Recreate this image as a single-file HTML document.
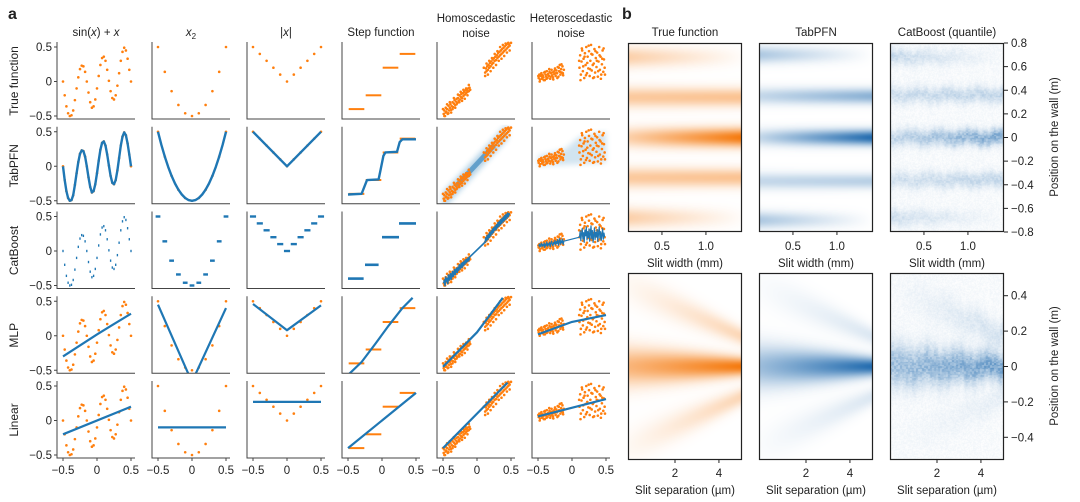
<!DOCTYPE html>
<html><head><meta charset="utf-8">
<style>
html,body{margin:0;padding:0;background:#fff;}
#wrap{position:relative;width:1080px;height:502px;overflow:hidden;font-family:"Liberation Sans",Arial,sans-serif;}
canvas{position:absolute;}
svg{position:absolute;left:0;top:0;}
svg text{font-family:"Liberation Sans",Arial,sans-serif;fill:#222;}
</style></head>
<body>
<div id="wrap">
<canvas id="h0" width="114" height="189" style="left:628px;top:43px"></canvas>
<canvas id="h1" width="114" height="189" style="left:759px;top:43px"></canvas>
<canvas id="h2" width="114" height="189" style="left:890px;top:43px"></canvas>
<canvas id="h3" width="114" height="187" style="left:628px;top:273px"></canvas>
<canvas id="h4" width="114" height="187" style="left:759px;top:273px"></canvas>
<canvas id="h5" width="114" height="187" style="left:890px;top:273px"></canvas>
<svg id="svg" width="1080" height="502" xmlns="http://www.w3.org/2000/svg">
<defs><filter id="blur"><feGaussianBlur stdDeviation="3"/></filter></defs>
</svg>
</div>
<script>
// ---------- panel a data ----------
const gridX = [-0.5,-0.475,-0.45,-0.425,-0.4,-0.375,-0.35,-0.325,-0.3,-0.275,-0.25,-0.225,-0.2,-0.175,-0.15,-0.125,-0.1,-0.075,-0.05,-0.025,0,0.025,0.05,0.075,0.1,0.125,0.15,0.175,0.2,0.225,0.25,0.275,0.3,0.325,0.35,0.375,0.4,0.425,0.45,0.475,0.5];
const sinY = [0,-0.2,-0.36,-0.46,-0.5,-0.49,-0.42,-0.27,-0.1,0.06,0.18,0.23,0.22,0.14,0,-0.16,-0.3,-0.38,-0.36,-0.26,-0.1,0.08,0.24,0.34,0.36,0.3,0.17,0.01,-0.14,-0.24,-0.26,-0.2,-0.06,0.12,0.3,0.43,0.49,0.45,0.33,0.17,0];
const mlpSinX = [-0.5,0,0.2,0.5];
const mlpSinY = [-0.3,0.02,0.14,0.32];
const linSinX = [-0.5,0.5];
const linSinY = [-0.2,0.2];
const tenthX = [-0.5,-0.4,-0.3,-0.2,-0.1,0,0.1,0.2,0.3,0.4,0.5];
const x2Y = [0.5,0.14,-0.14,-0.34,-0.46,-0.5,-0.46,-0.34,-0.14,0.14,0.5];
const curveX = [-0.5,-0.45,-0.4,-0.35,-0.3,-0.25,-0.2,-0.15,-0.1,-0.05,0,0.05,0.1,0.15,0.2,0.25,0.3,0.35,0.4,0.45,0.5];
const tabX2Y = [0.5,0.31,0.14,-0.01,-0.14,-0.25,-0.34,-0.41,-0.46,-0.49,-0.5,-0.49,-0.46,-0.41,-0.34,-0.25,-0.14,-0.01,0.14,0.31,0.5];
const mlpX2X = [-0.5,-0.05,0.05,0.5];
const mlpX2Y = [0.45,-0.56,-0.56,0.4];
const linX2Y = [-0.1,-0.1];
const absY = [0.5,0.4,0.3,0.2,0.1,0,0.1,0.2,0.3,0.4,0.5];
const tabAbsX = [-0.5,0,0.5];
const tabAbsY = [0.5,0,0.5];
const mlpAbsY = [0.46,0.08,0.44];
const linAbsY = [0.27,0.27];
const stepX0 = [-0.5,-0.25,0,0.25];
const stepX1 = [-0.25,0,0.25,0.5];
const stepY = [-0.4,-0.2,0.2,0.4];
const tabStepX = [-0.5,-0.3,-0.26,-0.22,-0.05,-0.02,0.02,0.05,0.22,0.26,0.3,0.5];
const tabStepY = [-0.41,-0.4,-0.3,-0.2,-0.19,-0.05,0.15,0.2,0.21,0.35,0.39,0.39];
const catStepX0 = [-0.5,-0.25,0,0.25];
const catStepX1 = [-0.27,-0.05,0.25,0.5];
const mlpStepX = [-0.48,-0.3,-0.1,0.1,0.3,0.45];
const mlpStepY = [-0.55,-0.38,-0.12,0.15,0.4,0.55];
const linStepY = [-0.4,0.4];
const homoX = [-0.49,-0.48,-0.47,-0.46,-0.45,-0.44,-0.43,-0.42,-0.41,-0.4,-0.39,-0.38,-0.37,-0.36,-0.35,-0.34,-0.33,-0.32,-0.31,-0.3,-0.29,-0.28,-0.27,-0.26,-0.25,-0.24,-0.23,-0.22,-0.21,-0.2,-0.19,-0.18,-0.17,-0.16,-0.15,-0.14,-0.13,-0.12,-0.11,
 0.12,0.13,0.14,0.15,0.16,0.17,0.18,0.19,0.2,0.21,0.22,0.23,0.24,0.25,0.26,0.27,0.28,0.29,0.3,0.31,0.32,0.33,0.34,0.35,0.36,0.37,0.38,0.39,0.4,0.41,0.42,0.43,0.44,0.45,0.46,0.47,0.48];
const homoY = [-0.47,-0.42,-0.5,-0.38,-0.44,-0.4,-0.47,-0.35,-0.42,-0.38,-0.33,-0.41,-0.36,-0.3,-0.37,-0.32,-0.27,-0.34,-0.29,-0.25,-0.31,-0.24,-0.28,-0.2,-0.26,-0.22,-0.18,-0.24,-0.17,-0.21,-0.15,-0.19,-0.13,-0.17,-0.12,-0.15,-0.1,-0.14,-0.09,
 0.13,0.19,0.15,0.22,0.17,0.24,0.2,0.27,0.22,0.29,0.25,0.32,0.27,0.34,0.3,0.36,0.31,0.38,0.34,0.41,0.36,0.43,0.38,0.45,0.4,0.47,0.42,0.49,0.44,0.51,0.46,0.53,0.48,0.55,0.5,0.54,0.52];
const homoXExtra = [-0.5,-0.48,-0.46,-0.44,-0.42,-0.4,-0.38,-0.36,-0.34,-0.32,-0.3,-0.28,-0.26,-0.24,-0.22,-0.2,-0.18,-0.16,-0.14,-0.12,-0.1,
 0.1,0.12,0.14,0.16,0.18,0.2,0.22,0.24,0.26,0.28,0.3,0.32,0.34,0.36,0.38,0.4,0.42,0.44,0.46,0.48,0.5];
const homoYExtra = [-0.4,-0.5,-0.45,-0.33,-0.46,-0.3,-0.45,-0.4,-0.24,-0.38,-0.33,-0.19,-0.3,-0.15,-0.28,-0.12,-0.25,-0.1,-0.2,-0.05,-0.12,
 0.2,0.08,0.26,0.1,0.3,0.15,0.34,0.2,0.4,0.24,0.44,0.3,0.5,0.33,0.53,0.37,0.55,0.42,0.56,0.45,0.56];
const heteroX = [-0.49,-0.48,-0.47,-0.46,-0.45,-0.44,-0.43,-0.42,-0.41,-0.4,-0.39,-0.38,-0.37,-0.36,-0.35,-0.34,-0.33,-0.32,-0.31,-0.3,-0.29,-0.28,-0.27,-0.26,-0.25,-0.24,-0.23,-0.22,-0.21,-0.2,-0.19,-0.18,-0.17,-0.16,-0.15,-0.14,-0.13,-0.12,
 0.11,0.12,0.13,0.14,0.15,0.16,0.17,0.18,0.19,0.2,0.21,0.22,0.23,0.24,0.25,0.26,0.27,0.28,0.29,0.3,0.31,0.32,0.33,0.34,0.35,0.36,0.37,0.38,0.39,0.4,0.41,0.42,0.43,0.44,0.45,0.46,0.47,0.48];
const heteroY = [0.05,0.1,0.03,0.08,0.12,0.04,0.09,0.06,0.13,0.02,0.1,0.07,0.15,0.05,0.11,0.08,0.14,0.04,0.12,0.17,0.09,0.06,0.14,0.11,0.19,0.08,0.16,0.12,0.21,0.07,0.15,0.24,0.1,0.18,0.13,0.22,0.09,0.17,
 0.2,0.38,0.1,0.29,0.45,0.15,0.33,0.05,0.41,0.24,0.5,0.12,0.36,0.19,0.44,0.08,0.3,0.53,0.16,0.39,0.05,0.26,0.47,0.13,0.34,0.21,0.42,0.07,0.29,0.5,0.17,0.36,0.1,0.25,0.45,0.14,0.32,0.2];
const heteroXExtra = [-0.495,-0.475,-0.455,-0.435,-0.415,-0.395,-0.375,-0.355,-0.335,-0.315,-0.295,-0.275,-0.255,-0.235,-0.215,-0.195,-0.175,-0.155,-0.135,
 0.105,0.125,0.145,0.165,0.185,0.205,0.225,0.245,0.265,0.285,0.305,0.325,0.345,0.365,0.385,0.405,0.425,0.445,0.465,0.485];
const heteroYExtra = [0.08,0.0,0.11,0.06,0.02,0.14,0.04,0.1,0.18,0.07,0.13,0.03,0.16,0.12,0.05,0.2,0.14,0.25,0.12,
 0.3,0.02,0.48,0.22,0.36,0.09,0.27,0.52,0.18,0.4,0.24,0.06,0.44,0.3,0.15,0.38,0.04,0.33,0.48,0.1];
const mlpHomoX = [-0.5,0,0.38];
const mlpHomoY = [-0.45,0.05,0.55];
const linHomoX = [-0.5,0.45];
const linHomoY = [-0.4,0.55];
const mlpHetX = [-0.5,0,0.5];
const mlpHetY = [0.02,0.2,0.3];
const linHetX = [-0.5,0.5];
const linHetY = [0.06,0.31];
const rowNames = ["True function","TabPFN","CatBoost","MLP","Linear"];
const yTicks = [0.5,0,-0.5];
const xTicks = [-0.5,0,0.5];

// ---------- panel b data ----------
const topBandC = [0.68,0.34,0,-0.34,-0.68];
const trueTopL = [0.35,0.4,0.35,0.4,0.35];
const trueTopR = [0.02,0.45,1.0,0.45,0.02];
const tabTopC = [0.7,0.35,0,-0.37,-0.7];
const tabTopL = [0.35,0.25,0.25,0.25,0.35];
const tabTopR = [0.0,0.5,0.95,0.3,0.0];
const catTopC = [0.68,0.36,0,-0.36,-0.68];
const catTopL = [0.2,0.17,0.2,0.15,0.17];
const catTopR = [0.0,0.22,0.5,0.22,0.0];
const botC0 = [0,0.45,-0.45];
const botC5 = [0,0.17,-0.17];
const trueBotL = [0.55,0.05,0.05];
const trueBotR = [1.0,0.3,0.3];
const tabBotL = [0.42,0.02,0.02];
const tabBotR = [0.95,0.15,0.15];
const catBotL = [0.35,0.0,0.0];
const catBotR = [0.55,0.15,0.07];
const topXTicks = [0.5,1.0];
const botXTicks = [2,4];
const topYTicks = [0.8,0.6,0.4,0.2,0,-0.2,-0.4,-0.6,-0.8];
const botYTicks = [0.4,0.2,0,-0.2,-0.4];

// ---------- helpers ----------
const NS = "http://www.w3.org/2000/svg";
const svg = document.getElementById("svg");
const OR = "#ff7f0e", BL = "#1f77b4";
function mk(tag, attrs, parent){const e=document.createElementNS(NS,tag);for(const k in attrs)e.setAttribute(k,attrs[k]);(parent||svg).appendChild(e);return e;}
function fmt(v){return v===0?"0":(v<0?"\u2212":"")+String(Math.abs(v)).replace(/^0\./,"0.");}
const colL = [57,152,247,342,437,532];
function rowT(r){return 42+r*84.75;}
function sx(c,x){return colL[c]+6+(x+0.5)*68;}
function sy(r,y){return rowT(r)+39.5-y*69;}

function line(g,c,r,xs,ys,w,col,name){
  const p=xs.map((x,i)=>sx(c,x).toFixed(1)+","+sy(r,ys[i]).toFixed(1)).join(" ");
  const e=mk("polyline",{points:p,fill:"none",stroke:col||BL,"stroke-width":w||2.2,"stroke-linejoin":"round"},g);
  
  
}
function dots(g,c,r,xs,ys,col,rad,name){
  xs.forEach((x,i)=>{const e=mk("circle",{cx:sx(c,x),cy:sy(r,ys[i]),r:rad||1.3,fill:col||OR},g);
    
    });
}
function segs(g,c,r,x0,x1,ys,col,w,name){
  ys.forEach((y,i)=>{const e=mk("line",{x1:sx(c,x0[i]),x2:sx(c,x1[i]),y1:sy(r,y),y2:sy(r,y),stroke:col,"stroke-width":w||2.2},g);
    
    });
}
function dashes(g,c,r,xs,ys,hw,name){
  segs(g,c,r,xs.map(x=>x-hw),xs.map(x=>x+hw),ys,BL,2.4,name||'catboost-dash');
}
function homoDots(g,c,r){dots(g,c,r,homoX,homoY);dots(g,c,r,homoXExtra,homoYExtra);}
function heteroDots(g,c,r){dots(g,c,r,heteroX,heteroY);dots(g,c,r,heteroXExtra,heteroYExtra);}

// ---------- panel a ----------
let t=mk("text",{x:8,y:19,"font-size":16,"font-weight":"bold"});t.textContent="a";

const titles=[["sin(x) + x"],["x2"],["|x|"],["Step function"],["Homoscedastic","noise"],["Heteroscedastic","noise"]];
titles.forEach((tt,c)=>{
  const cx=colL[c]+39;
  const e=mk("text",{x:cx,y:tt.length>1?22:36,"text-anchor":"middle","font-size":11.5});
  
  if(c===0){e.innerHTML='sin(<tspan font-style="italic">x</tspan>) + <tspan font-style="italic">x</tspan>';}
  else if(c===1){e.innerHTML='<tspan font-style="italic">x</tspan><tspan font-size="8" dy="3">2</tspan>';}
  else if(c===2){e.innerHTML='|<tspan font-style="italic">x</tspan>|';}
  else{e.textContent=tt[0];}
  if(tt.length>1){const e2=mk("text",{x:cx,y:37,"text-anchor":"middle","font-size":11.5});e2.textContent=tt[1];
    }
});
for(let r=0;r<5;r++){
  const rl=mk("text",{x:0,y:0,"text-anchor":"middle","font-size":12,transform:`translate(18,${rowT(r)+39}) rotate(-90)`});
  rl.textContent=rowNames[r];
  yTicks.forEach(v=>{
    const y=sy(r,v);
    const tk=mk("line",{x1:colL[0]-3,x2:colL[0],y1:y,y2:y,stroke:"#444","stroke-width":1});
    
    const tl=mk("text",{x:colL[0]-5,y:y+4,"text-anchor":"end","font-size":11.5});tl.textContent=fmt(v);
    
  });
  for(let c=0;c<6;c++){
    const g=mk("g",{});
    
    const cid="cl"+r+"_"+c;
    const cp=mk("clipPath",{id:cid},g);mk("rect",{x:colL[c]+1,y:rowT(r)-2,width:79,height:79},cp);
    const pg=mk("g",{"clip-path":`url(#${cid})`},g);
    drawPlot(pg,r,c);
    const sp=mk("path",{d:`M${colL[c]},${rowT(r)} V${rowT(r)+77} H${colL[c]+78}`,fill:"none",stroke:"#444","stroke-width":1},g);
    
    if(r===4){xTicks.forEach(v=>{
      const x=sx(c,v);
      const tk=mk("line",{x1:x,x2:x,y1:rowT(r)+77,y2:rowT(r)+80,stroke:"#444","stroke-width":1});
      
      const tl=mk("text",{x:x,y:474,"text-anchor":"middle","font-size":11.5});tl.textContent=fmt(v);
      
    });}
  }
}
function drawPlot(g,r,c){
  if(c===0){
    if(r===1){dots(g,c,r,gridX,sinY);line(g,c,r,gridX,sinY,2.4);}
    else if(r===2){dashes(g,c,r,gridX,sinY,0.01);}
    else{dots(g,c,r,gridX,sinY);
      if(r===3)line(g,c,r,mlpSinX,mlpSinY);
      if(r===4)line(g,c,r,linSinX,linSinY);}
  } else if(c===1){
    if(r===1){dots(g,c,r,tenthX,x2Y);line(g,c,r,curveX,tabX2Y,2.4);}
    else if(r===2){dashes(g,c,r,tenthX,x2Y,0.035);}
    else{dots(g,c,r,tenthX,x2Y);
      if(r===3)line(g,c,r,mlpX2X,mlpX2Y);
      if(r===4)line(g,c,r,[-0.5,0.5],linX2Y);}
  } else if(c===2){
    if(r===1){dots(g,c,r,tenthX,absY);line(g,c,r,tabAbsX,tabAbsY,2.4);}
    else if(r===2){dashes(g,c,r,tenthX,absY,0.045);}
    else{dots(g,c,r,tenthX,absY);
      if(r===3)line(g,c,r,tabAbsX,mlpAbsY);
      if(r===4)line(g,c,r,[-0.5,0.5],linAbsY);}
  } else if(c===3){
    if(r===2){segs(g,c,r,catStepX0,catStepX1,stepY,BL,2.6);return;}
    segs(g,c,r,stepX0.map(v=>v+0.01),stepX1.map(v=>v-0.01),stepY,OR,2);
    if(r===1)line(g,c,r,tabStepX,tabStepY,2.4);
    if(r===3)line(g,c,r,mlpStepX,mlpStepY);
    if(r===4)line(g,c,r,[-0.5,0.5],linStepY);
  } else if(c===4){
    if(r===1){
      const b=mk("polygon",{points:[[-0.5,-0.62],[0.45,0.4],[0.45,0.62],[-0.5,-0.38]].map(p=>sx(c,p[0])+","+sy(r,p[1])).join(" "),fill:BL,opacity:0.35,filter:"url(#blur)"},g);
      
      line(g,c,r,[-0.3,0.25],[-0.28,0.3],5,"rgba(31,119,180,0.55)");
    }
    homoDots(g,c,r);
    if(r===2)line(g,c,r,homoX,homoY,1.6);
    if(r===3)line(g,c,r,mlpHomoX,mlpHomoY);
    if(r===4)line(g,c,r,linHomoX,linHomoY);
  } else {
    if(r===1){
      const b=mk("polygon",{points:[[-0.5,0.0],[0.5,0.05],[0.5,0.5],[0.1,0.42],[-0.1,0.25],[-0.5,0.15]].map(p=>sx(c,p[0])+","+sy(r,p[1])).join(" "),fill:BL,opacity:0.2,filter:"url(#blur)"},g);
      
    }
    heteroDots(g,c,r);
    if(r===2)line(g,c,r,heteroX,heteroY.map((v,i)=>i<38?v*0.6+0.04:v*0.5+0.1),1.2);
    if(r===3)line(g,c,r,mlpHetX,mlpHetY);
    if(r===4)line(g,c,r,linHetX,linHetY);
  }
}

// ---------- panel b ----------
t=mk("text",{x:622,y:19,"font-size":16,"font-weight":"bold"});t.textContent="b";

const bx=[628,759,890], bTitles=["True function","TabPFN","CatBoost (quantile)"];
bx.forEach((x,i)=>{
  const e=mk("text",{x:x+57,y:36,"text-anchor":"middle","font-size":11.5});e.textContent=bTitles[i];
  
  [[43,189],[273,187]].forEach((bb,j)=>{
    const rc=mk("rect",{x:x+0.5,y:bb[0]+0.5,width:113,height:bb[1]-1,fill:"none",stroke:"#222","stroke-width":1.2});
    
    const ticks=j===0?topXTicks:botXTicks;
    ticks.forEach(v=>{
      const px=j===0? x+(v-0.114)/1.296*114 : x+(v+0.14)/5.19*114;
      const tk=mk("line",{x1:px,x2:px,y1:bb[0]+bb[1],y2:bb[0]+bb[1]+3,stroke:"#222"});
      
      const tl=mk("text",{x:px,y:j===0?250:477,"text-anchor":"middle","font-size":11.5});tl.textContent=j===0?v.toFixed(1):String(v);
      
    });
    const at=mk("text",{x:x+57,y:j===0?267:494,"text-anchor":"middle","font-size":11.5});
    at.textContent=j===0?"Slit width (mm)":"Slit separation (\u00b5m)";
    
  });
});
topYTicks.forEach(v=>{
  const y=43+(0.8-v)/1.6*189;
  const tk=mk("line",{x1:1004,x2:1008,y1:y,y2:y,stroke:"#222"});
  const tl=mk("text",{x:1011,y:y+4,"font-size":11.5});tl.textContent=fmt(v);
  
});
botYTicks.forEach(v=>{
  const y=366.5-v*177;
  const tk=mk("line",{x1:1004,x2:1008,y1:y,y2:y,stroke:"#222"});
  const tl=mk("text",{x:1011,y:y+4,"font-size":11.5});tl.textContent=fmt(v);
  
});
[137,366].forEach(cy=>{
  const e=mk("text",{x:0,y:0,"text-anchor":"middle","font-size":11.5,transform:`translate(1058,${cy}) rotate(-90)`});
  e.textContent="Position on the wall (m)";
});

function hash(i,j){let h=(i*374761393+j*668265263)>>>0;h=(h^(h>>>13))*1274126177>>>0;return ((h^(h>>>16))>>>0)/4294967296;}
function heat(id,xd,yd,c0,c5,iL,iR,sL,sR,rgb,noise){
  const cv=document.getElementById(id),ctx=cv.getContext("2d"),W=cv.width,H=cv.height;
  const img=ctx.createImageData(W,H);
  for(let py=0;py<H;py++){
    const y=yd[1]-(py+0.5)/H*(yd[1]-yd[0]);
    for(let px=0;px<W;px++){
      const f=(px+0.5)/W;
      let v=0;
      for(let k=0;k<c0.length;k++){
        const c=c0[k]+(c5[k]-c0[k])*f, s=sL+(sR-sL)*f, a=iL[k]+(iR[k]-iL[k])*f;
        const n=noise?(0.7+0.6*hash(Math.floor(px/2)+k*7,Math.floor(py/1.5))):1;
        const cc=noise?c+0.012*Math.sin(px*0.21+k*2)+0.008*Math.sin(px*0.73+k):c;
        v+=a*n*Math.exp(-((y-cc)*(y-cc))/(2*s*s));
      }
      if(noise)v+=0.06*hash(px,py+999);
      v=Math.min(1,v);
      const o=(py*W+px)*4;
      img.data[o]=255+(rgb[0]-255)*v;img.data[o+1]=255+(rgb[1]-255)*v;img.data[o+2]=255+(rgb[2]-255)*v;img.data[o+3]=255;
    }
  }
  ctx.putImageData(img,0,0);
}
const ORG=[245,122,14], BLU=[23,100,171];
heat("h0",[0.114,1.41],[-0.8,0.8],topBandC,topBandC,trueTopL,trueTopR,0.06,0.055,ORG,false);
heat("h1",[0.114,1.41],[-0.8,0.8],tabTopC,tabTopC,tabTopL,tabTopR,0.05,0.045,BLU,false);
heat("h2",[0.114,1.41],[-0.8,0.8],catTopC,catTopC,catTopL,catTopR,0.05,0.045,BLU,true);
heat("h3",[-0.14,5.05],[-0.528,0.528],botC0,botC5,trueBotL,trueBotR,0.075,0.035,ORG,false);
heat("h4",[-0.14,5.05],[-0.528,0.528],botC0,botC5,tabBotL,tabBotR,0.085,0.035,BLU,false);
heat("h5",[-0.14,5.05],[-0.528,0.528],botC0,botC5,catBotL,catBotR,0.085,0.05,BLU,true);
</script>
</body></html>
